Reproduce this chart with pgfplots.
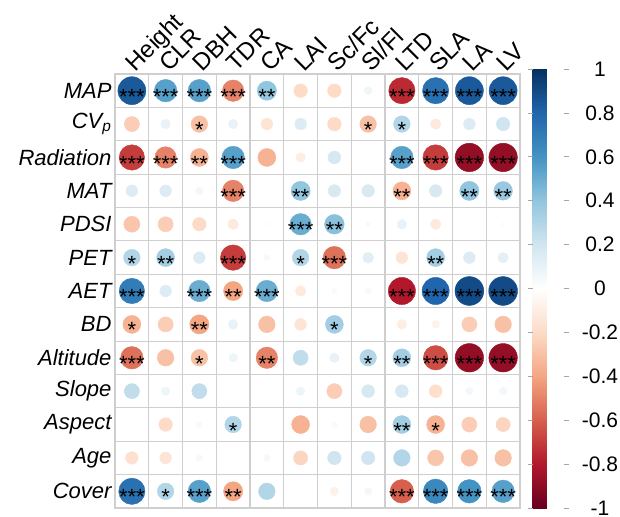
\documentclass[border=0pt]{standalone}
\usepackage{fontspec}
\setmainfont{Liberation Sans}
\usepackage{pgfplots}
\usepackage{pgfplotstable}
\pgfplotsset{compat=1.18}

% x = trait column, y = driver row, r = correlation
\pgfplotstableread{
x y r
1 1 0.85
2 1 0.55
3 1 0.55
4 1 -0.5
5 1 0.4
6 1 -0.2
7 1 -0.2
8 1 0.07
9 1 -0.75
10 1 0.75
11 1 0.85
12 1 0.85
1 2 -0.25
2 2 0.1
3 2 -0.3
4 2 0.1
5 2 -0.15
6 2 0.15
7 2 -0.2
8 2 -0.3
9 2 0.3
10 2 -0.12
11 2 0.15
12 2 0.2
1 3 -0.7
2 3 -0.5
3 3 -0.35
4 3 0.55
5 3 -0.35
6 3 -0.1
7 3 0.18
8 3 0.01
9 3 0.55
10 3 -0.7
11 3 -0.88
12 3 -0.88
1 4 0.15
2 4 0.15
3 4 0.06
4 4 -0.5
5 4 0.005
6 4 0.4
7 4 0.17
8 4 0.17
9 4 -0.35
10 4 0.17
11 4 0.4
12 4 0.38
1 5 -0.28
2 5 -0.25
3 5 -0.2
4 5 -0.12
5 5 0.02
6 5 0.5
7 5 0.42
8 5 0.03
9 5 0.1
10 5 -0.12
11 5 0.005
12 5 -0.02
1 6 0.3
2 6 0.35
3 6 0.15
4 6 -0.7
5 6 0.04
6 6 0.3
7 6 -0.55
8 6 0.13
9 6 -0.15
10 6 0.35
11 6 0.15
12 6 0.12
1 7 0.7
2 7 0.15
3 7 0.5
4 7 -0.4
5 7 0.5
6 7 -0.12
7 7 -0.03
8 7 0.04
9 7 -0.8
10 7 0.8
11 7 0.9
12 7 0.9
1 8 -0.35
2 8 -0.25
3 8 -0.4
4 8 0.1
5 8 -0.3
6 8 -0.15
7 8 0.35
8 8 -0.01
9 8 -0.1
10 8 -0.07
11 8 -0.25
12 8 -0.3
1 9 -0.55
2 9 -0.3
3 9 -0.3
4 9 0.08
5 9 -0.5
6 9 0.25
7 9 0.1
8 9 0.3
9 9 0.35
10 9 -0.65
11 9 -0.88
12 9 -0.88
1 10 0.25
2 10 0.08
3 10 0.25
4 10 -0.01
5 10 -0.01
6 10 0.08
7 10 -0.25
8 10 0.18
9 10 0.18
10 10 -0.18
11 10 0.06
12 10 0.06
1 11 -0.01
2 11 -0.2
3 11 0.04
4 11 0.3
5 11 -0.01
6 11 -0.35
7 11 -0.04
8 11 -0.3
9 11 0.35
10 11 -0.35
11 11 -0.25
12 11 -0.22
1 12 -0.17
2 12 -0.15
3 12 0.05
4 12 0.005
5 12 0.05
6 12 -0.22
7 12 0.2
8 12 0.2
9 12 0.3
10 12 -0.28
11 12 -0.3
12 12 -0.3
1 13 0.75
2 13 0.3
3 13 0.55
4 13 -0.4
5 13 0.3
6 13 0.01
7 13 -0.08
8 13 0.06
9 13 -0.6
10 13 0.65
11 13 0.6
12 13 0.55
}\corr

% significance stars of the cells that have them
\pgfplotstableread{
x y s
1 1 ***
2 1 ***
3 1 ***
4 1 ***
5 1 **
9 1 ***
10 1 ***
11 1 ***
12 1 ***
3 2 *
8 2 *
9 2 *
1 3 ***
2 3 ***
3 3 **
4 3 ***
9 3 ***
10 3 ***
11 3 ***
12 3 ***
4 4 ***
6 4 **
9 4 **
11 4 **
12 4 **
6 5 ***
7 5 **
1 6 *
2 6 **
4 6 ***
6 6 *
7 6 ***
10 6 **
1 7 ***
3 7 ***
4 7 **
5 7 ***
9 7 ***
10 7 ***
11 7 ***
12 7 ***
1 8 *
3 8 **
7 8 *
1 9 ***
3 9 *
5 9 **
8 9 *
9 9 **
10 9 ***
11 9 ***
12 9 ***
4 11 *
9 11 **
10 11 *
1 13 ***
2 13 *
3 13 ***
4 13 **
9 13 ***
10 13 ***
11 13 ***
12 13 ***
}\stars

\begin{document}
\begin{tikzpicture}[x=1pt,y=1pt]
\useasboundingbox (-115,-8) rectangle (505,508);
\begin{axis}[
    at={(0,0)}, anchor=south west,
    scale only axis,
    width=405pt, height=434pt,
    xmin=0.5, xmax=12.5,
    ymin=0.5, ymax=13.5,
    y dir=reverse,
    xtick={1,...,12},
    ytick={1,...,13},
    xticklabels={Height,CLR,DBH,TDR,CA,LAI,Sc/Fc,Sl/Fl,LTD,SLA,LA,LV},
    yticklabels={MAP,CV\textsubscript{p},Radiation,MAT,PDSI,PET,AET,BD,Altitude,Slope,Aspect,Age,Cover},
    xticklabel pos=right,
    major tick length=0pt,
    minor xtick={0.5,1.5,...,12.5},
    minor ytick={0.5,1.5,...,13.5},
    minor tick length=0pt,
    xminorgrids, yminorgrids,
    minor grid style={gray!38, line width=1.1pt},
    axis line style={gray!38, line width=1.1pt},
    xticklabel style={xshift=1pt, yshift=-1pt, rotate=45, anchor=base west,
        font=\fontsize{24}{24}\selectfont},
    yticklabel style={font=\fontsize{22}{22}\selectfont\itshape},
    colormap={rdbu}{rgb255=(103,0,31) rgb255=(178,24,43) rgb255=(214,96,77)
        rgb255=(244,165,130) rgb255=(253,219,199) rgb255=(255,255,255)
        rgb255=(209,229,240) rgb255=(146,197,222) rgb255=(67,147,195)
        rgb255=(33,102,172) rgb255=(5,48,97)},
    point meta min=-1, point meta max=1,
    colorbar right,
    colorbar style={
        at={(parent axis.south east)}, anchor=south west, xshift=4pt,
        scale only axis, width=31pt, height=439pt,
        y dir=normal,
        ytick={-1,-0.8,-0.6,-0.4,-0.2,0,0.2,0.4,0.6,0.8,1},
        yticklabels={-1,-0.8,-0.6,-0.4,-0.2,0,0.2,0.4,0.6,0.8,1},
        yticklabel style={font=\fontsize{21}{21}\selectfont, text width=44pt,
            align=center, anchor=west, xshift=6pt},
        major tick length=5pt, tick align=outside,
        tick style={gray!70, line width=0.6pt},
        axis line style={draw=none},
    },
]
\addplot[
    scatter, only marks, mark=*,
    point meta=\thisrow{r},
    scatter/use mapped color={draw=mapped color, fill=mapped color},
    visualization depends on={15.2*sqrt(abs(\thisrow{r})) \as \rad},
    scatter/@pre marker code/.append style={/tikz/mark size=\rad},
] table[x=x, y=y] {\corr};
\addplot[
    only marks, mark=none,
    point meta=explicit symbolic,
    nodes near coords,
    every node near coord/.append style={anchor=center, text=black,
        inner sep=0pt, yshift=-6pt, font=\fontsize{22}{22}\selectfont},
] table[x=x, y=y, meta=s] {\stars};
\end{axis}
\end{tikzpicture}
\end{document}
